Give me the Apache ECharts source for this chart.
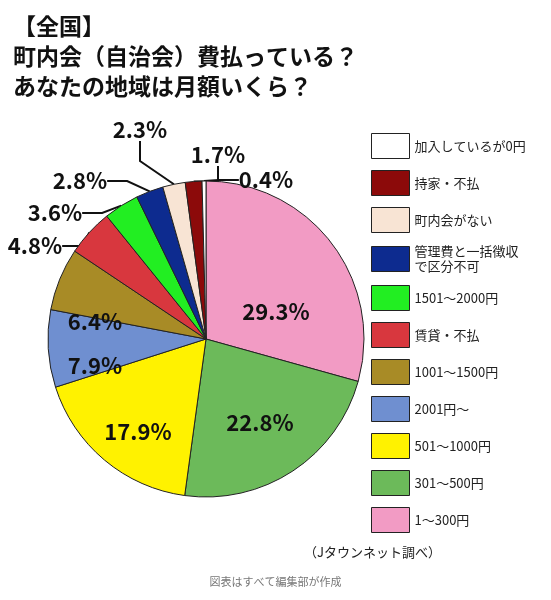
<!DOCTYPE html><html><head><meta charset="utf-8"><script src="https://cdn.jsdelivr.net/npm/echarts@6/dist/echarts.min.js"></script></head><body style="margin:0;background:#fff"><div id="c" style="width:551px;height:600px"></div><script>
const categories=['1～300円','301～500円','501～1000円','2001円～','1001～1500円','賃貸・不払','1501～2000円','管理費と一括徴収\nで区分不可','町内会がない','持家・不払','加入しているが0円'];
const values=[29.3,22.8,17.9,7.9,6.4,4.8,3.6,2.8,2.3,1.7,0.4];
const colors=['#f29bc4','#6cba5a','#fff200','#6f8fd0','#a88b26','#d8373e','#22ee22','#0d2b8f','#f8e4d4','#8c0a0a','#ffffff'];
const chart=echarts.init(document.getElementById('c'));
const data=categories.map((n,i)=>({name:n,value:values[i],itemStyle:{color:colors[i]},
 label:values[i]<5?{position:'outside'}:{position:'inside'},labelLine:{show:values[i]<5}}));
const labelPos={0:[276,312],1:[260,423],2:[138,432],3:[95,366],4:[95,322],5:[35,246],6:[55,213],7:[80,181],8:[140,130],9:[218,155],10:[266,180]};
chart.setOption({
 animation:false,
 title:{text:'【全国】\n町内会（自治会）費払っている？\nあなたの地域は月額いくら？',left:8,top:6,textStyle:{fontFamily:'Noto Sans CJK JP',fontSize:23,fontWeight:'bold',lineHeight:30,color:'#111'}},
 legend:{orient:'vertical',left:366,top:128,data:categories.slice().reverse(),itemWidth:38,itemHeight:25,itemGap:11,
  textStyle:{fontFamily:'Noto Sans CJK JP',fontSize:13,color:'#222',lineHeight:15},icon:'rect',selectedMode:false,
  itemStyle:{borderColor:'#222',borderWidth:1}},
 series:[{type:'pie',center:[206,339],radius:158,startAngle:90,clockwise:true,data:data,
  itemStyle:{borderColor:'#222',borderWidth:1},
  label:{formatter:p=>p.value.toFixed(1)+'%',fontFamily:'Noto Sans CJK JP',fontSize:22,fontWeight:'bold',color:'#111',overflow:'none'},
  labelLine:{length:15,length2:20,lineStyle:{color:'#111',width:2}},
  labelLayout:function(p){const q=labelPos[p.dataIndex];return {x:q[0],y:q[1],align:'center',verticalAlign:'middle',hideOverlap:false,moveOverlap:null};}
 }],
 graphic:[
  {type:'text',left:304,top:546,style:{text:'（Jタウンネット調べ）',font:'13px "Noto Sans CJK JP"',fill:'#222'}},
  {type:'text',left:'center',top:576,style:{text:'図表はすべて編集部が作成',font:'11px "Noto Sans CJK JP"',fill:'#777'}}
 ]
});
</script></body></html>
